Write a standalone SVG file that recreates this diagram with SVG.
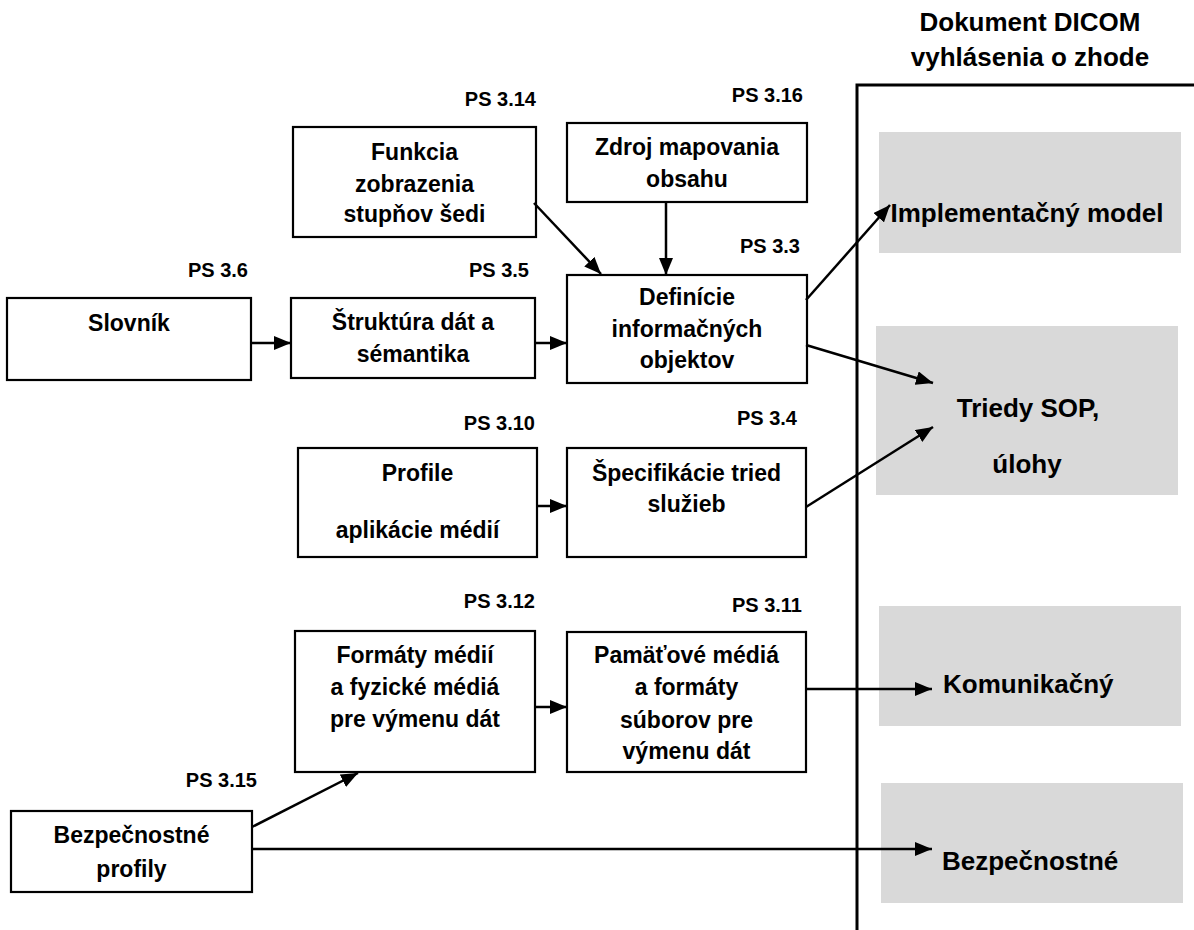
<svg xmlns="http://www.w3.org/2000/svg" width="1194" height="930" viewBox="0 0 1194 930">
<style>
text{font-family:"Liberation Sans",Arial,sans-serif;font-weight:bold;fill:#000}
.t{font-size:23px;text-anchor:middle}
.ps{font-size:20px;text-anchor:end}
.g{font-size:26px}
.box{fill:#fff;stroke:#000;stroke-width:2.2}
.gray{fill:#d9d9d9;stroke:none}
.c{stroke:#000;stroke-width:2.5;fill:none;marker-end:url(#ah)}
.frame{stroke:#000;stroke-width:3;fill:none}
</style>
<defs>
<marker id="ah" markerUnits="userSpaceOnUse" markerWidth="18" markerHeight="14" refX="17" refY="7" orient="auto">
<path d="M0,0 L17,7 L0,14 z" fill="#000"/>
</marker>
</defs>
<rect width="1194" height="930" fill="#fff"/>

<g id="dicom-document">
<text class="g" x="1030" y="31" text-anchor="middle">Dokument DICOM</text>
<text class="g" x="1030" y="66" text-anchor="middle">vyhlásenia o zhode</text>
<path class="frame" d="M857,930 L857,85 L1194,85"/>
</g>

<g id="implementation-model">
<rect class="gray" x="879" y="132" width="302" height="121"/>
<text class="g" x="1027" y="222" text-anchor="middle">Implementačný model</text>
</g>
<g id="sop-classes">
<rect class="gray" x="876" y="326" width="302" height="169"/>
<text class="g" x="1028" y="417" text-anchor="middle">Triedy SOP,</text>
<text class="g" x="1027" y="473" text-anchor="middle">úlohy</text>
</g>
<g id="communication">
<rect class="gray" x="879" y="606" width="302" height="120"/>
<text class="g" x="943" y="693">Komunikačný</text>
</g>
<g id="security">
<rect class="gray" x="881" y="783" width="302" height="120"/>
<text class="g" x="942" y="870">Bezpečnostné</text>
</g>

<g id="ps314">
<rect class="box" x="293" y="127" width="243" height="110"/>
<text class="t" x="414.5" y="160">Funkcia</text>
<text class="t" x="414.5" y="192">zobrazenia</text>
<text class="t" x="414.5" y="222">stupňov šedi</text>
<text class="ps" x="536" y="106">PS 3.14</text>
</g>
<g id="ps316">
<rect class="box" x="567" y="123" width="240" height="79"/>
<text class="t" x="687" y="155">Zdroj mapovania</text>
<text class="t" x="687" y="187">obsahu</text>
<text class="ps" x="803" y="102">PS 3.16</text>
</g>
<g id="ps33">
<rect class="box" x="567" y="275" width="240" height="108"/>
<text class="t" x="687" y="305">Definície</text>
<text class="t" x="687" y="337">informačných</text>
<text class="t" x="687" y="368">objektov</text>
<text class="ps" x="800" y="253">PS 3.3</text>
</g>
<g id="ps36">
<rect class="box" x="7" y="298" width="244" height="82"/>
<text class="t" x="129" y="331">Slovník</text>
<text class="ps" x="248" y="277">PS 3.6</text>
</g>
<g id="ps35">
<rect class="box" x="291" y="298" width="244" height="80"/>
<text class="t" x="413" y="330">Štruktúra dát a</text>
<text class="t" x="413" y="362">sémantika</text>
<text class="ps" x="529" y="277">PS 3.5</text>
</g>
<g id="ps310">
<rect class="box" x="298" y="448" width="239" height="109"/>
<text class="t" x="417.5" y="481">Profile</text>
<text class="t" x="417.5" y="538">aplikácie médií</text>
<text class="ps" x="535" y="430">PS 3.10</text>
</g>
<g id="ps34">
<rect class="box" x="567" y="448" width="239" height="109"/>
<text class="t" x="686.5" y="481">Špecifikácie tried</text>
<text class="t" x="686.5" y="512">služieb</text>
<text class="ps" x="797" y="425">PS 3.4</text>
</g>
<g id="ps312">
<rect class="box" x="295" y="631" width="240" height="141"/>
<text class="t" x="415" y="663">Formáty médií</text>
<text class="t" x="415" y="695">a fyzické médiá</text>
<text class="t" x="415" y="727">pre výmenu dát</text>
<text class="ps" x="535" y="608">PS 3.12</text>
</g>
<g id="ps311">
<rect class="box" x="567" y="632" width="239" height="140"/>
<text class="t" x="686.5" y="663">Pamäťové médiá</text>
<text class="t" x="686.5" y="695">a formáty</text>
<text class="t" x="686.5" y="728">súborov pre</text>
<text class="t" x="686.5" y="759">výmenu dát</text>
<text class="ps" x="802" y="612">PS 3.11</text>
</g>
<g id="ps315">
<rect class="box" x="11" y="811" width="241" height="81"/>
<text class="t" x="131.5" y="843">Bezpečnostné</text>
<text class="t" x="131.5" y="877">profily</text>
<text class="ps" x="257" y="787">PS 3.15</text>
</g>

<g id="connectors">
<line class="c" x1="534" y1="203" x2="601" y2="274"/>
<line class="c" x1="666" y1="202" x2="666" y2="275"/>
<line class="c" x1="251" y1="343" x2="291" y2="343"/>
<line class="c" x1="535" y1="343" x2="567" y2="343"/>
<line class="c" x1="806" y1="300" x2="890" y2="205"/>
<line class="c" x1="806" y1="345" x2="933" y2="383"/>
<line class="c" x1="806" y1="507" x2="933" y2="427"/>
<line class="c" x1="537" y1="506" x2="567" y2="506"/>
<line class="c" x1="535" y1="707" x2="567" y2="707"/>
<line class="c" x1="806" y1="689" x2="932" y2="689"/>
<line class="c" x1="252" y1="827" x2="358" y2="773"/>
<line class="c" x1="252" y1="849" x2="932" y2="849"/>
</g>
</svg>
